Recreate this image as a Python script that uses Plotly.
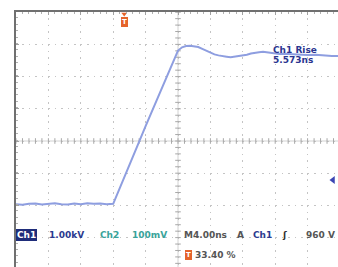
import plotly.graph_objects as go

# ---- data (time in ns, Ch1 voltage in kV) ----
t_ns = [-20.0, -19.2, -18.4, -17.6, -16.8, -16.0, -15.2, -14.4, -13.6, -12.8, -12.0, -11.2,
        -10.4, -9.6, -8.8, -8.0, -7.5, -7.0, -6.0, -5.0, -4.0, -3.0, -2.0, -1.0, -0.5, 0.0,
        0.5, 1.0, 1.5, 2.0, 2.5, 3.0, 3.5, 4.0, 4.5, 5.0, 5.5, 6.0, 6.5, 7.0, 7.5, 8.0, 8.5,
        9.0, 9.5, 10.0, 10.5, 11.0, 11.5, 12.0, 12.5, 13.0, 14.0, 15.0, 16.0, 17.0, 18.0,
        19.0, 19.75]
ch1_kv = [0.21, 0.19, 0.22, 0.23, 0.20, 0.21, 0.24, 0.21, 0.20, 0.23, 0.21, 0.24,
          0.22, 0.23, 0.21, 0.22, 0.53, 0.83, 1.43, 2.03, 2.63, 3.23, 3.83, 4.43, 4.70, 4.98,
          5.08, 5.12, 5.13, 5.11, 5.09, 5.03, 4.97, 4.91, 4.86, 4.83, 4.80, 4.79, 4.77, 4.79,
          4.80, 4.82, 4.85, 4.89, 4.92, 4.93, 4.94, 4.92, 4.90, 4.89, 4.87, 4.88, 4.86, 4.85,
          4.84, 4.85, 4.82, 4.81, 4.81]

ch1_scale_label = "1.00kV"
ch2_scale_label = "100mV"
timebase_label = "M4.00ns"
trig_level_label = "960 V"
trig_level_kv = 0.96
trig_pos_pct = 33.40
rise_label = "5.573ns"

# ---- screen geometry (10 x 8 divisions) ----
NS_PER_DIV = 4.0
KV_PER_DIV = 1.0
X_LEFT = -20.0
X_CENTER = 0.0
Y_CENTER = 2.171
PX_X0, PX_XC, PX_PER_NS = 16, 178, 8.1
PY_C, PY_PER_KV = 141, 32.2


def px2x(px):
    return (px - PX_XC) / PX_PER_NS


def py2y(py):
    return Y_CENTER + (PY_C - py) / PY_PER_KV


x_range = [px2x(16), px2x(338)]
y_range = [py2y(267), py2y(12)]

fig = go.Figure()

# centre cross lines
fig.add_shape(type="line", x0=X_CENTER, x1=X_CENTER, y0=y_range[0], y1=y_range[1],
              line=dict(color="#d2d2d2", width=1), layer="below")
fig.add_shape(type="line", x0=x_range[0], x1=x_range[1], y0=Y_CENTER, y1=Y_CENTER,
              line=dict(color="#d2d2d2", width=1), layer="below")

# minor ticks on centre lines
n_x = int(round((x_range[1] - X_LEFT) / (NS_PER_DIV / 5))) + 1
tick_x = [X_LEFT + i * NS_PER_DIV / 5 for i in range(n_x)]
tick_y = [Y_CENTER - 4 * KV_PER_DIV + i * KV_PER_DIV / 5 for i in range(41)]
fig.add_trace(go.Scatter(x=tick_x, y=[Y_CENTER] * len(tick_x), mode="markers",
                         marker=dict(symbol="line-ns", size=4, line=dict(color="#a8a8a8", width=1)),
                         hoverinfo="skip", showlegend=False))
fig.add_trace(go.Scatter(x=[X_CENTER] * len(tick_y), y=tick_y, mode="markers",
                         marker=dict(symbol="line-ew", size=4, line=dict(color="#a8a8a8", width=1)),
                         hoverinfo="skip", showlegend=False))

# waveform
fig.add_trace(go.Scatter(x=t_ns, y=ch1_kv, mode="lines",
                         line=dict(color="#8e9ee0", width=2), hoverinfo="skip",
                         showlegend=False))

# trigger level indicator
fig.add_trace(go.Scatter(x=[px2x(333)], y=[trig_level_kv], mode="markers",
                         marker=dict(symbol="triangle-left", size=7, color="#3c46b4"),
                         hoverinfo="skip", showlegend=False))

# trigger position indicator
trig_x = X_LEFT + trig_pos_pct / 100 * 10 * NS_PER_DIV
fig.add_trace(go.Scatter(x=[trig_x], y=[py2y(14)], mode="markers",
                         marker=dict(symbol="triangle-down", size=5, color="#e5642b"),
                         hoverinfo="skip", showlegend=False, cliponaxis=False))

F = "DejaVu Sans"


def txt(s, px, py, color, size=9, xanchor="left", pad=0, **kw):
    fig.add_annotation(x=px2x(px), y=py2y(py), text=s, showarrow=False, xanchor=xanchor,
                       yanchor="middle", font=dict(family=F, size=size, color=color),
                       borderpad=pad, borderwidth=0, **kw)


fig.add_annotation(x=trig_x, y=py2y(22), text="<b>T</b>", showarrow=False,
                   xanchor="center", yanchor="middle",
                   font=dict(family=F, size=7, color="white"),
                   bgcolor="#e5642b", borderpad=1, borderwidth=0)

txt("<b>Ch1 Rise</b>", 273, 50, "#2b3590")
txt("<b>" + rise_label + "</b>", 273, 60, "#2b3590")

txt("<b>Ch1</b>", 16, 235, "white", pad=1, bgcolor="#1f2d7a")
txt("<b>" + ch1_scale_label + "</b>", 49, 235, "#2b3a8f")
txt("<b>Ch2</b>", 100, 235, "#3aa39a")
txt("<b>" + ch2_scale_label + "</b>", 132, 235, "#3aa39a")
txt("<b>" + timebase_label + "</b>", 184, 235, "#555555")
txt("<b>A</b>", 237, 235, "#555555")
txt("<b>Ch1</b>", 253, 235, "#2b3a8f")
txt("<b>ʃ</b>", 282, 235, "#333333")
txt("<b>" + trig_level_label + "</b>", 306, 235, "#555555")
txt("<b>T</b>", 188.5, 255, "white", size=7, xanchor="center", pad=1, bgcolor="#e5642b")
txt("<b>%.2f %%</b>" % trig_pos_pct, 195, 255, "#555555")

fig.update_layout(
    width=338, height=267,
    margin=dict(l=16, r=0, t=12, b=0),
    paper_bgcolor="white", plot_bgcolor="white",
    showlegend=False,
    xaxis=dict(range=x_range, side="top", showline=True, linecolor="#707070", linewidth=2,
               showgrid=True, gridcolor="#c4c4c4", griddash="1.5px,4.94px",
               tick0=X_CENTER, dtick=NS_PER_DIV, ticks="inside", ticklen=3, tickcolor="#a0a0a0",
               showticklabels=False, zeroline=False, fixedrange=True,
               minor=dict(dtick=NS_PER_DIV / 5, ticks="inside", ticklen=2,
                          tickcolor="#b0b0b0", showgrid=False)),
    yaxis=dict(range=y_range, showline=True, linecolor="#707070", linewidth=2,
               showgrid=True, gridcolor="#c4c4c4", griddash="1.5px,4.98px",
               tick0=Y_CENTER, dtick=KV_PER_DIV, ticks="inside", ticklen=3, tickcolor="#a0a0a0",
               showticklabels=False, zeroline=False, fixedrange=True,
               minor=dict(dtick=KV_PER_DIV / 5, ticks="inside", ticklen=2,
                          tickcolor="#b0b0b0", showgrid=False)),
)

fig.write_html("out.html", config={"displayModeBar": False},
               post_script="document.body.style.margin='0px';document.body.style.overflow='hidden';")
